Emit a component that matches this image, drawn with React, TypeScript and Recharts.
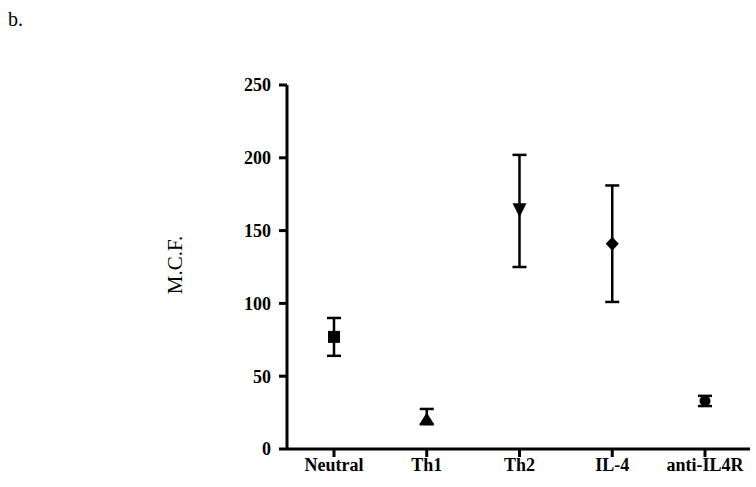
import { ComposedChart, Scatter, ErrorBar, XAxis, YAxis } from 'recharts';

const groups = ['Neutral', 'Th1', 'Th2', 'IL-4', 'anti-IL4R'];
const means = [77, 21, 164, 141, 33];
const errLow = [13, 4, 39, 40, 3.5];
const errHigh = [13, 6.5, 38, 40, 3.5];
const markers = ['square', 'triangle', 'triangleDown', 'diamond', 'circle'];
const yTicks = [0, 50, 100, 150, 200, 250];

const data = groups.map((g, i) => ({
  name: g,
  value: means[i],
  err: [errLow[i], errHigh[i]],
  marker: markers[i],
}));

const serif = '"Liberation Serif", "Times New Roman", serif';

const Marker = (props: any) => {
  const { cx, cy, payload } = props;
  if (cx == null || cy == null) return null;
  const m = payload.marker;
  if (m === 'square') {
    return <rect x={cx - 6} y={cy - 6} width={12} height={12} fill="#000" />;
  }
  if (m === 'triangle') {
    return <polygon points={`${cx},${cy - 6} ${cx + 7.5},${cy + 6} ${cx - 7.5},${cy + 6}`} fill="#000" />;
  }
  if (m === 'triangleDown') {
    return <polygon points={`${cx - 7},${cy - 7} ${cx + 7},${cy - 7} ${cx},${cy + 7}`} fill="#000" />;
  }
  if (m === 'diamond') {
    return <polygon points={`${cx},${cy - 7} ${cx + 6.5},${cy} ${cx},${cy + 7} ${cx - 6.5},${cy}`} fill="#000" />;
  }
  return <circle cx={cx} cy={cy} r={5.5} fill="#000" />;
};

const App = () => {
  return (
    <div style={{ position: 'absolute', left: 0, top: 0, width: 756, height: 487, background: '#fff' }}>
      <div style={{ position: 'absolute', left: 8, top: 8, fontFamily: serif, fontSize: 20, color: '#000' }}>b.</div>
      <ComposedChart
        width={756}
        height={487}
        data={data}
        margin={{ top: 85, right: 6, bottom: 8, left: 0 }}
      >
        <XAxis
          dataKey="name"
          type="category"
          stroke="#000"
          strokeWidth={3}
          tickSize={8}
          tickMargin={1}
          height={30}
          interval={0}
          padding={{ left: 47, right: 45 }}
          tick={{ fill: '#000', fontFamily: serif, fontWeight: 'bold', fontSize: 18 }}
        />
        <YAxis
          type="number"
          domain={[0, 250]}
          ticks={yTicks}
          width={287}
          stroke="#000"
          strokeWidth={3}
          tickSize={8}
          tickMargin={8}
          tick={{ fill: '#000', fontFamily: serif, fontWeight: 'bold', fontSize: 18 }}
          label={{
            content: (p: any) => {
              const vb = p.viewBox;
              const x = 182;
              const y = vb.y + vb.height / 2 - 2;
              return (
                <text
                  x={x}
                  y={y}
                  transform={`rotate(-90, ${x}, ${y})`}
                  textAnchor="middle"
                  fontFamily={serif}
                  fontSize={21}
                  fill="#000"
                >
                  M.C.F.
                </text>
              );
            },
          }}
        />
        <Scatter dataKey="value" shape={<Marker />} isAnimationActive={false}>
          <ErrorBar dataKey="err" direction="y" width={7} stroke="#000" strokeWidth={2.5} />
        </Scatter>
      </ComposedChart>
    </div>
  );
};

export default App;
